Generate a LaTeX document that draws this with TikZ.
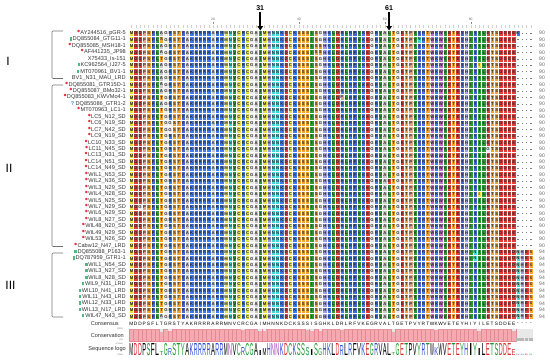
\documentclass[tikz,border=0pt]{standalone}
\usepackage{fontspec}
\setsansfont{Liberation Sans}
\usepackage{graphicx}
\usepackage{xcolor}
\usepackage{tikz}
\usetikzlibrary{arrows.meta}
% cell colours
\definecolor{aaA}{HTML}{C8C8C8}
\definecolor{aaC}{HTML}{E8DE48}\colorlet{aaM}{aaC}
\definecolor{aaD}{HTML}{E23E3A}\colorlet{aaE}{aaD}
\definecolor{aaF}{HTML}{4A62D2}\colorlet{aaY}{aaF}
\definecolor{aaG}{HTML}{ECECEC}
\definecolor{aaH}{HTML}{9C9CDE}
\definecolor{aaI}{HTML}{2F9A35}\colorlet{aaL}{aaI}\colorlet{aaV}{aaI}
\definecolor{aaK}{HTML}{3E7BEF}\colorlet{aaR}{aaK}
\definecolor{aaN}{HTML}{44D6D6}\colorlet{aaQ}{aaN}
\definecolor{aaP}{HTML}{E2A08E}
\definecolor{aaS}{HTML}{F4A233}\colorlet{aaT}{aaS}
\definecolor{aaW}{HTML}{BE6CC4}
% logo colours
\colorlet{lgA}{black}\colorlet{lgV}{black}\colorlet{lgL}{black}\colorlet{lgI}{black}
\colorlet{lgP}{black}\colorlet{lgW}{black}\colorlet{lgF}{black}\colorlet{lgM}{black}
\definecolor{lgG}{HTML}{1A9A2A}\colorlet{lgS}{lgG}\colorlet{lgT}{lgG}\colorlet{lgY}{lgG}\colorlet{lgC}{lgG}
\definecolor{lgN}{HTML}{A03AB0}\colorlet{lgQ}{lgN}
\definecolor{lgK}{HTML}{2A4AD8}\colorlet{lgR}{lgK}\colorlet{lgH}{lgK}
\definecolor{lgD}{HTML}{D82A2A}\colorlet{lgE}{lgD}
\definecolor{consred}{HTML}{F5A9B1}
\definecolor{consline}{HTML}{E58A95}
\definecolor{starred}{HTML}{E8313A}
\definecolor{greenmk}{HTML}{4DBB7E}
\definecolor{bluemk}{HTML}{3A8FD8}

\newcommand\xo{129.25}
\newcommand\yo{29.8}
\newcommand\cw{4.295}
\newcommand\rh{6.44}
\newcommand\cons{M,D,D,P,S,F,L,T,G,R,S,T,Y,A,K,R,R,R,R,A,R,R,M,N,V,C,R,C,G,A,I,M,H,N,N,K,D,C,K,S,S,S,I,S,G,H,K,L,D,R,L,R,F,V,K,E,G,R,V,A,L,T,G,E,T,P,V,Y,R,T,W,K,W,V,E,T,E,Y,H,I,Y,I,L,E,T,S,D,D,E,E}
\newcommand\logoh[1]{12-8*(#1==8)-5*(#1==10)-4*(#1==27)-7*(#1==31)-5*(#1==32)-4*(#1==42)-6*(#1==43)-5*(#1==45)-2*(#1==50)-9*(#1==62)-4*(#1==72)-5*(#1==82)-6*(#1==90)}
\newcount\stkn
\newcommand\colstack[1]{\vbox{\offinterlineskip\stkn=0
  \loop\ifnum\stkn<45 \advance\stkn by 1
    \hbox to \cw pt{\vrule height 4.7pt depth 1.74pt width 0pt\hss#1\hss}\repeat}}
\newcommand\mkred{\textcolor{starred}{\fontsize{9}{9}\selectfont\textbullet}\hspace{0.3pt}}
\newcommand\mkgrn{\textcolor{greenmk}{\rule[0.3pt]{2.2pt}{3.2pt}}\hspace{0.9pt}}
\newcommand\mkque{\textcolor{bluemk}{\bfseries ?}\hspace{1.5pt}}
\newcommand\mknon{}
\newcommand\altres[4]{%
  \path[cell=#4] ({\xo+(#2-1)*\cw},{\yo+(#1-1)*\rh}) rectangle ++(\cw,\rh);
  \node[res] (v#1-#2) at ({\xo+(#2-.5)*\cw},{\yo+(#1-.5)*\rh}) {#3};}

\begin{document}
\begin{tikzpicture}[x=1pt,y=-1pt,
   cell/.style={fill=#1,draw=white,line width=0.35pt},
   res/.style={inner sep=0pt,font=\sffamily\bfseries\fontsize{4.2}{4.2}\selectfont,text=black!85},
   lbl/.style={anchor=east,inner sep=0pt,font=\sffamily\fontsize{5.6}{6}\selectfont,text=black!80},
   cnt/.style={anchor=east,inner sep=0pt,font=\sffamily\fontsize{5}{5}\selectfont,text=black!60},
   gap/.style={black!50,line width=0.4pt},
   conslet/.style={inner sep=0pt,font=\sffamily\fontsize{4.8}{4.8}\selectfont},
   tinylbl/.style={anchor=east,inner sep=0pt,font=\sffamily\fontsize{2.2}{2.2}\selectfont,text=black!60},
   ruler/.style={inner sep=0pt,font=\sffamily\fontsize{3.4}{3.4}\selectfont,text=black!60},
   grp/.style={inner sep=0pt,font=\sffamily\fontsize{12}{12}\selectfont},
   brk/.style={draw=black!55,line width=0.6pt,rounded corners=1pt},
   posnum/.style={inner sep=0.6pt,font=\sffamily\bfseries\fontsize{7}{7}\selectfont},
   parrow/.style={-{Triangle[length=4.5pt,width=5.5pt]},line width=1.8pt}]
  \useasboundingbox (0,0) rectangle (550,362);

  % alignment
  \foreach \res [count=\i] in \cons
    \fill[fill=aa\res] ({\xo+(\i-1)*\cw},\yo) rectangle ++(\cw,{45*\rh});
  \foreach \k in {0,...,90}
    \draw[white,line width=0.35pt] ({\xo+\k*\cw},\yo) -- ++(0,{45*\rh});
  \foreach \r in {0,...,45}
    \draw[white,line width=0.35pt] (\xo,{\yo+\r*\rh}) -- ++({90*\cw},0);
  \foreach \res [count=\i] in \cons
    \node[res,anchor=north west] (col\i) at ({\xo+(\i-1)*\cw},\yo) {\colstack{\res}};
  \foreach \r in {1,...,34}{
    \foreach \i in {91,...,94}
      \draw[gap] ({\xo+(\i-.5)*\cw-.7},{\yo+(\r-.5)*\rh}) -- ++(1.4,0);
    \node[cnt] (n\r) at (545,{\yo+(\r-.5)*\rh}) {90};
  }
  \foreach \r in {35,...,45}{
    \altres{\r}{90}{D}{aaD}\altres{\r}{91}{N}{aaN}\altres{\r}{92}{H}{aaH}
    \altres{\r}{93}{E}{aaE}\altres{\r}{94}{S}{aaS}
    \node[cnt] (n\r) at (545,{\yo+(\r-.5)*\rh}) {94};
  }
  \foreach \r in {1,3,4,6,7,8,9,10,12,45} \altres{\r}{8}{A}{aaA};
  \altres{2}{8}{S}{aaS}\altres{2}{68}{N}{aaN}
  \altres{1}{91}{K}{aaK}
  \altres{3}{45}{S}{aaS}\altres{4}{44}{S}{aaS}\altres{4}{45}{S}{aaS}
  \altres{6}{82}{I}{aaM}\altres{11}{50}{P}{aaP}
  \altres{15}{10}{G}{aaG}\altres{16}{10}{G}{aaG}
  \altres{19}{84}{G}{aaG}\altres{24}{61}{E}{aaE}
  \altres{26}{82}{I}{aaM}\altres{28}{3}{G}{aaG}
  \altres{35}{81}{N}{aaN}\altres{36}{81}{N}{aaN}

  % names
  \foreach \r/\mk/\nm in {1/\mkred/AY244516\_pGR-5, 2/\mkgrn/DQ855084\_GTG11-1,
      3/\mkred/DQ855085\_MSH18-1, 4/\mkred/AF441235\_JP98, 5/\mknon/X75433\_Is-151,
      6/\mkgrn/KC962564\_IJ27-5, 7/\mkgrn/MT070961\_BV1-1, 8/\mknon/BV1\_N31\_MAU\_LRD,
      9/\mkred/DQ855081\_GTR15D-1, 10/\mkred/DQ855087\_BMo32-1, 11/\mkred/DQ855083\_KWVMo4-1,
      12/\mkque/DQ855086\_GTR1-2, 13/\mkred/MT070963\_LC1-1, 14/\mkred/LC5\_N12\_SD,
      15/\mkred/LC6\_N19\_SD, 16/\mkred/LC7\_N42\_SD, 17/\mkred/LC9\_N19\_SD,
      18/\mkred/LC10\_N33\_SD, 19/\mkred/LC11\_N45\_SD, 20/\mkred/LC13\_N31\_SD,
      21/\mkred/LC14\_N51\_SD, 22/\mkred/LC14\_N49\_SD, 23/\mkred/WIL1\_N53\_SD,
      24/\mkred/WIL2\_N36\_SD, 25/\mkred/WIL3\_N29\_SD, 26/\mkred/WIL4\_N28\_SD,
      27/\mkred/WIL5\_N25\_SD, 28/\mkred/WIL7\_N29\_SD, 29/\mkred/WIL6\_N29\_SD,
      30/\mkred/WIL8\_N27\_SD, 31/\mkred/WIL48\_N20\_SD, 32/\mkred/WIL49\_N29\_SD,
      33/\mkred/WIL53\_N26\_SD, 34/\mkred/Cabw12\_N47\_LRD, 35/\mkgrn/DQ855088\_P163-1,
      36/\mkgrn/DQ787959\_GTR1-1, 37/\mkgrn/WIL1\_N54\_SD, 38/\mkgrn/WIL3\_N27\_SD,
      39/\mkgrn/WIL8\_N28\_SD, 40/\mkgrn/WIL9\_N31\_LRD, 41/\mkgrn/WIL10\_N41\_LRD,
      42/\mkgrn/WIL11\_N43\_LRD, 43/\mkgrn/WIL12\_N33\_LRD, 44/\mkgrn/WIL13\_N17\_LRD,
      45/\mkgrn/WIL47\_N43\_SD}
    \node[lbl] (lab\r) at (126,{\yo+(\r-.5)*\rh}) {\mk\nm};

  % groups
  \draw[brk] (63,31) -- (52,31) -- (52,78.5) -- (63,78.5);
  \draw[brk] (63,85) -- (52,85) -- (52,246.5) -- (63,246.5);
  \draw[brk] (63,253) -- (52,253) -- (52,317) -- (63,317);
  \node[grp] (gI) at (8,61) {I};
  \node[grp] (gII) at (9,168) {II};
  \node[grp] (gIII) at (10.5,285) {III};

  % ruler
  \foreach \i in {1,...,94}
    \draw[black!18,line width=0.3pt] ({\xo+(\i-.5)*\cw},25.3) -- ++(0,2.4);
  \foreach \i in {20,40,60,80}{
    \node[ruler] (t\i) at ({\xo+(\i-.5)*\cw},19.3) {\i};
    \draw[black!45,line width=0.3pt] ({\xo+(\i-.5)*\cw},21.8) -- ++(0,2.6);
  }
  \node[posnum] (p31) at ({\xo+30.5*\cw},8.5) {31};
  \coordinate (a31) at ({\xo+30.5*\cw},30.5);
  \draw[parrow] (p31) -- (a31);
  \node[posnum] (p61) at ({\xo+60.5*\cw},8.5) {61};
  \coordinate (a61) at ({\xo+60.5*\cw},30.5);
  \draw[parrow] (p61) -- (a61);

  % consensus, conservation, logo
  \fill[black!9] ({\xo+89*\cw},329) rectangle ({\xo+94*\cw},341);
  \foreach \res [count=\i] in \cons{
    \node[conslet] (k\i) at ({\xo+(\i-.5)*\cw},324) {\res};
    \pgfmathsetmacro\lgh{\logoh{\i}}
    \pgfmathsetmacro\ntch{(12-\lgh)*0.3}
    \path[fill=consred,draw=consline,line width=0.3pt] ({\xo+(\i-1)*\cw},329) rectangle ++(\cw,12);
    \fill[black!10] ({\xo+(\i-1)*\cw+.3},329.2) rectangle ++(\cw-.6,\ntch);
    \node[inner sep=0pt,anchor=south,text=lg\res,font=\sffamily] (lg\i) at ({\xo+(\i-.5)*\cw},355.5)
      {\resizebox{3.9pt}{\lgh pt}{\res}};
  }
  \foreach \res [count=\j] in {N,H,E,S}{
    \pgfmathtruncatemacro\i{90+\j}
    \node[conslet] (k\i) at ({\xo+(\i-.5)*\cw},324) {-};
    \fill[black!28] ({\xo+(\i-1)*\cw+.2},338) rectangle ++(\cw-.4,3);
    \node[inner sep=0pt,anchor=south,text=lg\res,font=\sffamily] (lg\i) at ({\xo+(\i-.5)*\cw},355.5)
      {\resizebox{3.2pt}{1.4pt}{\res}};
  }
  \node[lbl] (lcons) at (119,324) {Consensus};
  \node[tinylbl] (l100) at (123,328.4) {100\%};
  \node[lbl] (lcnsv) at (124,335) {Conservation};
  \node[tinylbl] (l0) at (123,340.2) {0\%};
  \node[tinylbl] (l43) at (123,343.4) {4.3 bits};
  \node[lbl] (llogo) at (126,349.5) {Sequence logo};
  \node[tinylbl] (l0b) at (123,355.2) {0 bits};
\end{tikzpicture}
\end{document}
